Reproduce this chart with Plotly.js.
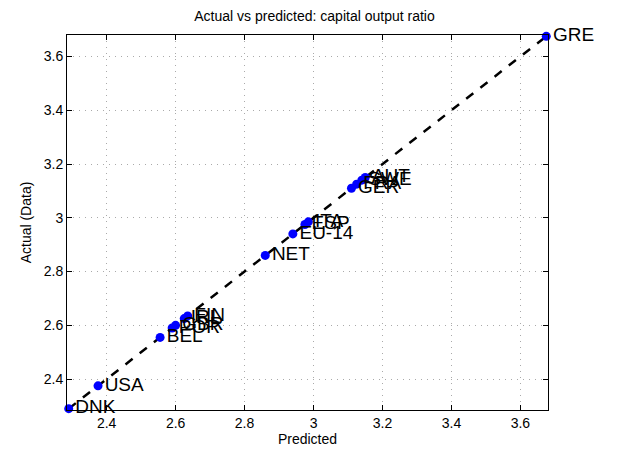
<!DOCTYPE html>
<html>
<head>
<script src="https://cdn.plot.ly/plotly-3.0.1.min.js"></script>
<style>body{margin:0;background:#fff}</style>
</head>
<body>
<div id="chart" style="width:629px;height:466px"></div>
<script>
// capital output ratio, predicted vs actual
var countries = ['DNK', 'USA', 'BEL', 'POR', 'GBR', 'IRL', 'FIN', 'NET', 'EU-14', 'ESP', 'ITA', 'GER', 'FRA', 'SWE', 'AUT', 'GRE'];
var predicted = [2.29, 2.375, 2.555, 2.59, 2.60, 2.625, 2.635, 2.86, 2.94, 2.975, 2.985, 3.11, 3.125, 3.14, 3.15, 3.675];
var actual    = [2.29, 2.375, 2.555, 2.59, 2.60, 2.625, 2.635, 2.86, 2.94, 2.975, 2.985, 3.11, 3.125, 3.14, 3.15, 3.675];
var lineEnds = [2.29, 3.675];

var axisStyle = {
    range: [2.285, 3.68],
    dtick: 0.2,
    showgrid: true,
    gridcolor: '#aaa',
    griddash: '1px,5px',
    gridwidth: 1,
    zeroline: false,
    showline: true,
    mirror: 'ticks',
    linecolor: '#000',
    ticks: 'inside',
    ticklen: 5,
    tickcolor: '#000',
    tickfont: {size: 14, color: '#000'}
};

var data = [
    {
        x: lineEnds, y: lineEnds,
        mode: 'lines', type: 'scatter',
        line: {color: '#000', width: 2.5, dash: 'dash'},
        hoverinfo: 'skip'
    },
    {
        x: predicted, y: actual,
        mode: 'markers+text', type: 'scatter',
        text: countries,
        textposition: 'middle right',
        textfont: {size: 19, color: '#000'},
        marker: {size: 9, color: '#0000ff'},
        cliponaxis: false
    }
];

var layout = {
    width: 629, height: 466,
    font: {family: 'Liberation Sans, Arial, sans-serif', color: '#000'},
    showlegend: false,
    plot_bgcolor: '#fff', paper_bgcolor: '#fff',
    margin: {l: 67, r: 81, t: 35, b: 56},
    title: {text: 'Actual vs predicted: capital output ratio', font: {size: 14}, x: 0.5, xanchor: 'center', y: 0.975},
    xaxis: Object.assign({}, axisStyle, {title: {text: 'Predicted', font: {size: 14}, standoff: 2}}),
    yaxis: Object.assign({}, axisStyle, {title: {text: 'Actual (Data)', font: {size: 14}, standoff: 8}})
};

Plotly.newPlot('chart', data, layout, {displayModeBar: false});
</script>
</body>
</html>
